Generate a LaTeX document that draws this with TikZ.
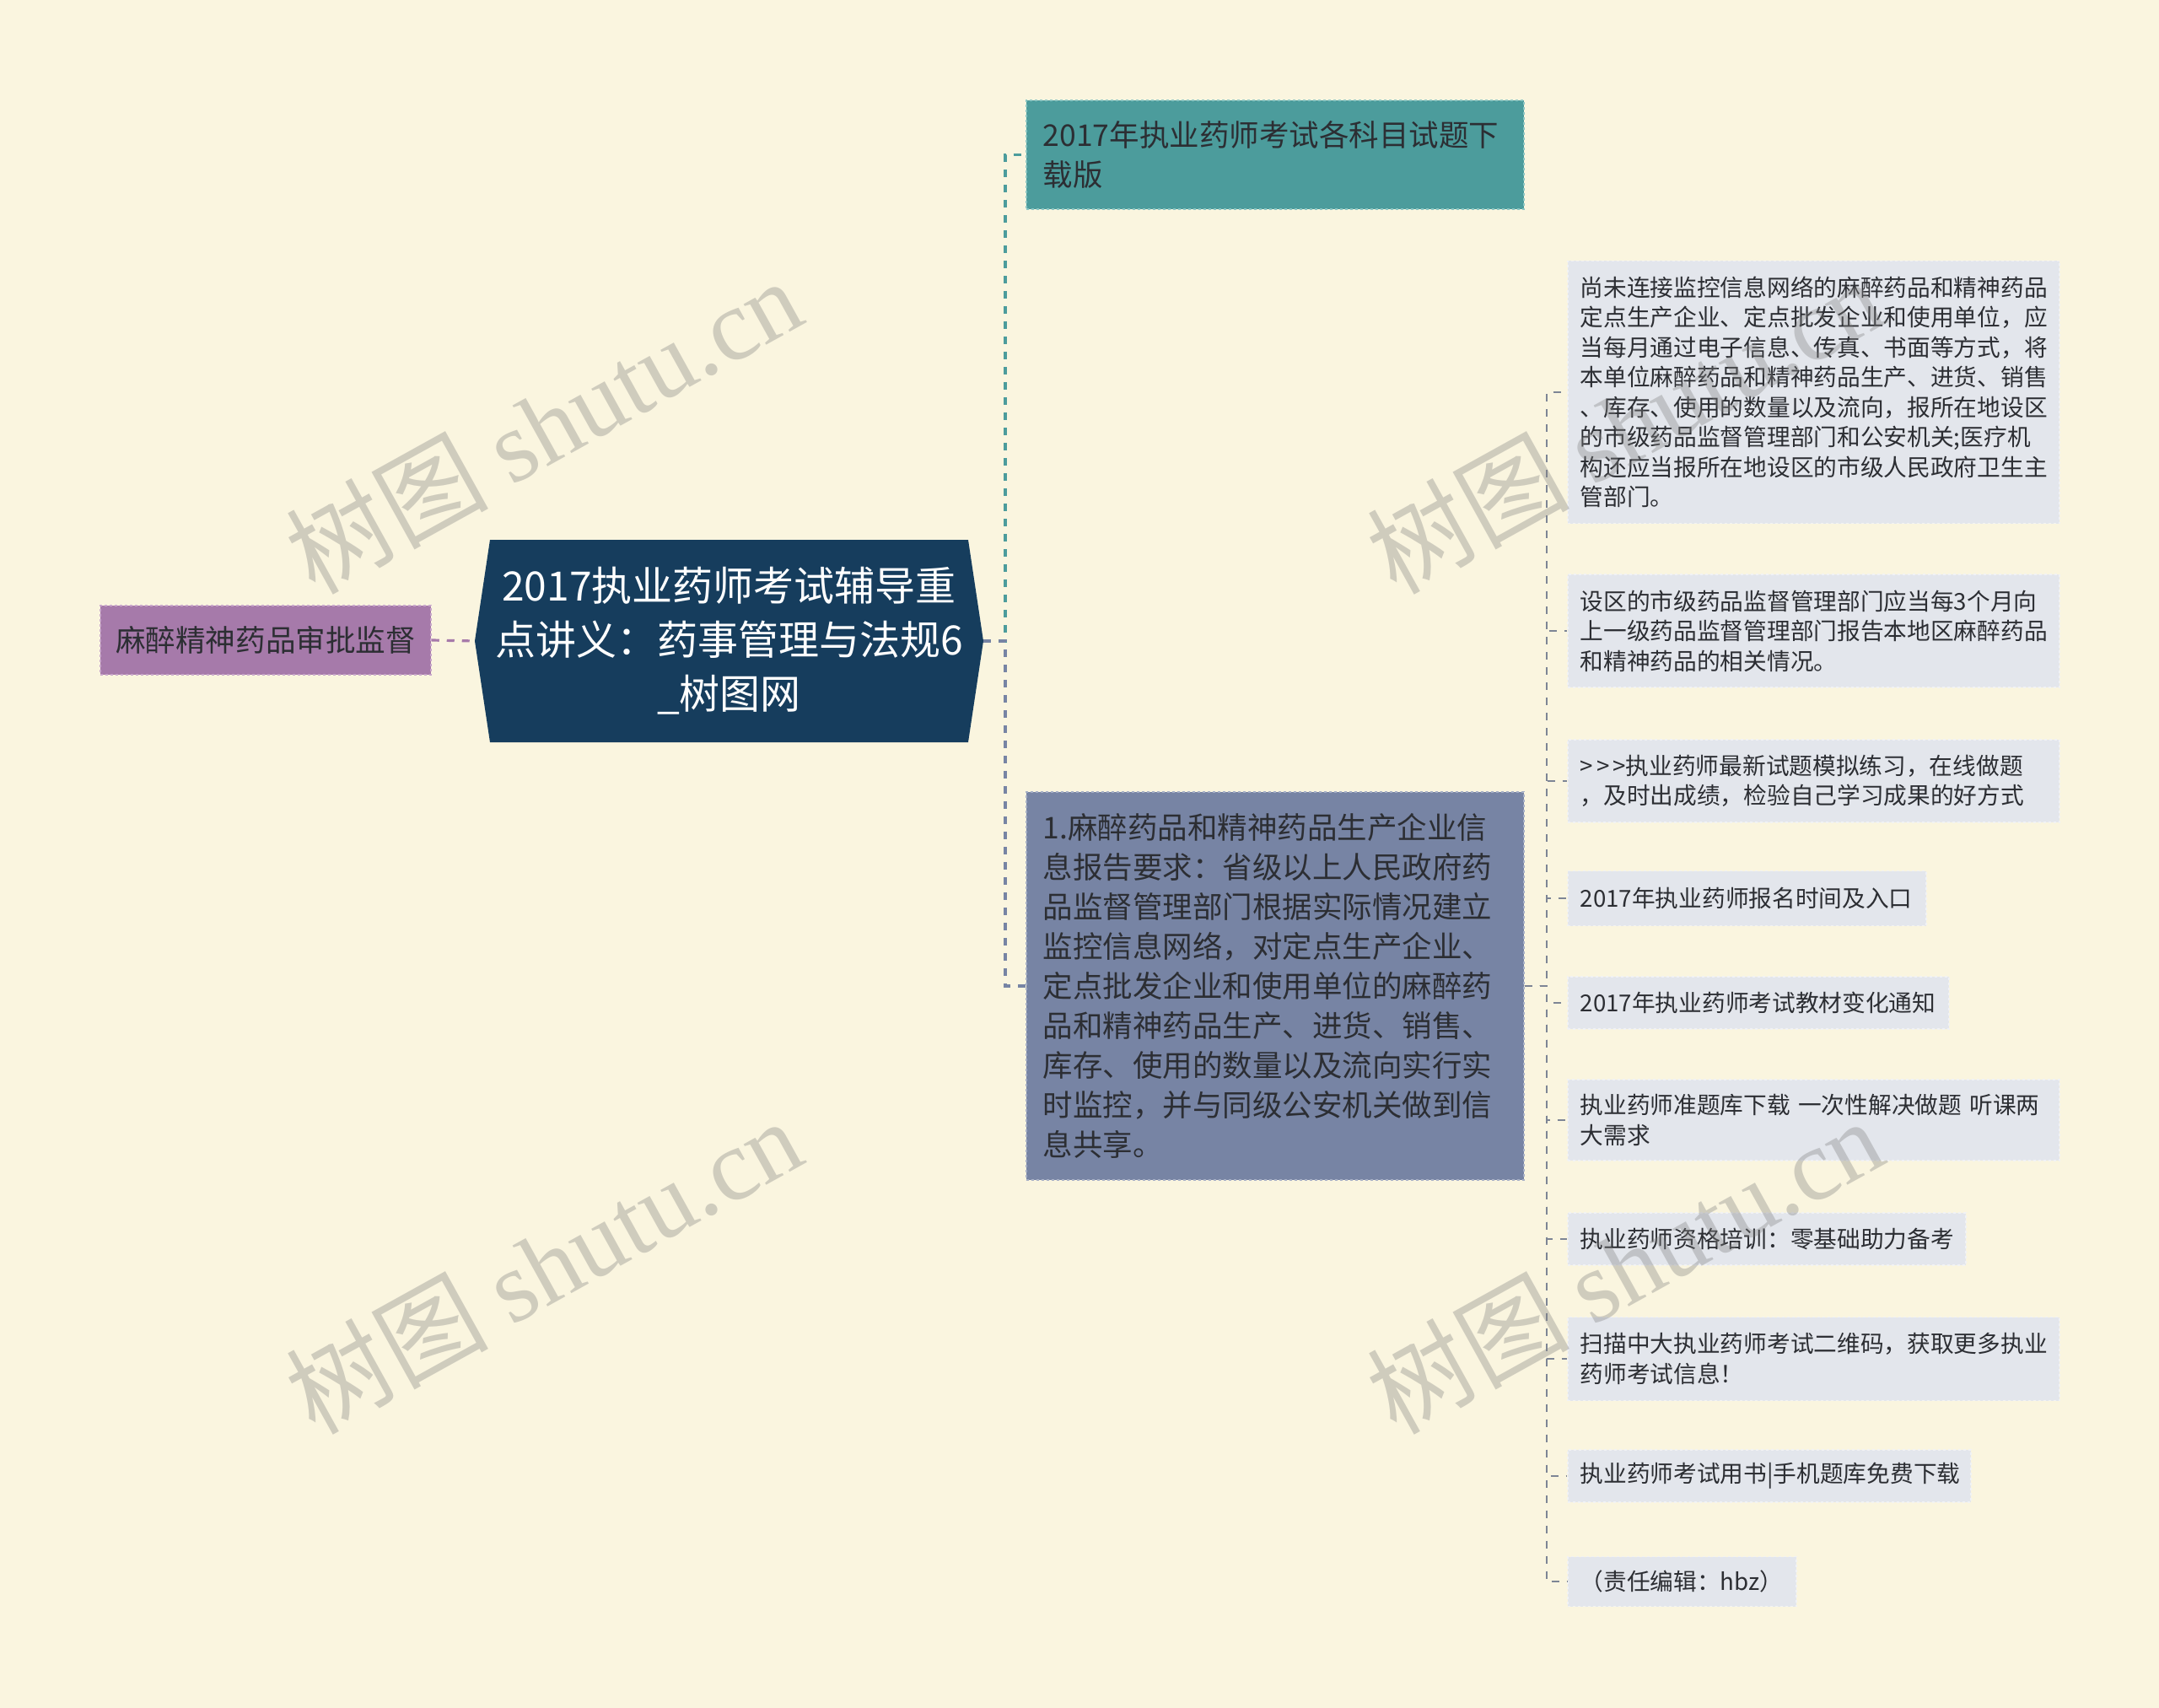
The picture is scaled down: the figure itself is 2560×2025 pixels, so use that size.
\documentclass[tikz,border=0pt]{standalone}
\usepackage{fontspec}
\setmainfont{Noto Sans CJK SC}
\newfontfamily\wmserif{Liberation Serif}
\definecolor{bgc}{HTML}{FAF5DF}
\definecolor{navy}{HTML}{163D5D}
\definecolor{tealc}{HTML}{4C9C9C}
\definecolor{tealb}{HTML}{8CC6C3}
\definecolor{slatec}{HTML}{7784A4}
\definecolor{slateb}{HTML}{A7B0C6}
\definecolor{purc}{HTML}{A67AAA}
\definecolor{purb}{HTML}{C9A7CB}
\definecolor{leafc}{HTML}{E3E6EC}
\definecolor{leafb}{HTML}{F1F2F4}
\definecolor{leafline}{HTML}{7D8595}
\definecolor{txt}{HTML}{2C2E33}
\tikzset{
  mainbox/.style={anchor=west, draw, dashed, line width=1.5pt, inner xsep=20pt, inner ysep=0pt,
    align=left, text=txt, font=\fontsize{35.5}{47}\selectfont},
  leaf/.style={anchor=west, fill=leafc, draw=leafb, dashed, line width=1.5pt, inner xsep=15pt, inner ysep=0pt,
    align=left, text=txt, font=\fontsize{27.7}{35.5}\selectfont},
  conn/.style={dashed, dash pattern=on 9pt off 9pt, line width=3.2pt},
  leafconn/.style={dash pattern=on 9pt off 9pt, line width=2.4pt, draw=leafline},
  wm/.style={anchor=base west, rotate=29, text=gray, opacity=0.35, font=\fontsize{120}{120}\selectfont}
}
\begin{document}
\begin{tikzpicture}[x=1pt,y=-1pt]
\useasboundingbox (0,0) rectangle (2560,2025);
\fill[bgc] (0,0) rectangle (2560,2025);

% central hexagon
\fill[navy] (581,640) -- (1148,640) -- (1166,760) -- (1148,880) -- (581,880) -- (563,760) -- cycle;
\node[text=white, font=\fontsize{48}{64}\selectfont, align=center, minimum width=603pt, minimum height=240pt, inner sep=0pt] (c) at (864.5,760)
  {2017执业药师考试辅导重\\点讲义：药事管理与法规6\\\_树图网};

% left node
\node[fill=purc, draw=purb, dashed, line width=1.5pt, minimum width=392pt, minimum height=82pt, inner sep=0pt,
  text=txt, font=\fontsize{35.6}{47}\selectfont] (l) at (315,759) {麻醉精神药品审批监督};

% top node
\node[mainbox, fill=tealc, draw=tealb, minimum width=590pt, minimum height=129pt, text width=550pt] (t) at (1216,183.5)
  {2017年执业药师考试各科目试题下\\载版};

% middle node
\node[mainbox, fill=slatec, draw=slateb, minimum width=590pt, minimum height=460pt, text width=550pt] (m) at (1216,1169)
  {1.麻醉药品和精神药品生产企业信\\息报告要求：省级以上人民政府药\\品监督管理部门根据实际情况建立\\监控信息网络，对定点生产企业、\\定点批发企业和使用单位的麻醉药\\品和精神药品生产、进货、销售、\\库存、使用的数量以及流向实行实\\时监控，并与同级公安机关做到信\\息共享。};

% leaves
\node[leaf, minimum width=583pt, minimum height=311pt, text width=553pt] (a1) at (1858,465)
  {尚未连接监控信息网络的麻醉药品和精神药品\\定点生产企业、定点批发企业和使用单位，应\\当每月通过电子信息、传真、书面等方式，将\\本单位麻醉药品和精神药品生产、进货、销售\\、库存、使用的数量以及流向，报所在地设区\\的市级药品监督管理部门和公安机关;医疗机\\构还应当报所在地设区的市级人民政府卫生主\\管部门。};
\node[leaf, minimum width=583pt, minimum height=134pt, text width=553pt] (a2) at (1858,748)
  {设区的市级药品监督管理部门应当每3个月向\\上一级药品监督管理部门报告本地区麻醉药品\\和精神药品的相关情况。};
\node[leaf, minimum width=583pt, minimum height=98pt, text width=553pt] (a3) at (1858,926)
  {>\kern4pt>\kern4pt>执业药师最新试题模拟练习，在线做题\\，及时出成绩，检验自己学习成果的好方式};
\node[leaf, minimum width=425pt, minimum height=65pt, text width=395pt] (a4) at (1858,1065)
  {2017年执业药师报名时间及入口};
\node[leaf, minimum width=452pt, minimum height=62pt, text width=422pt] (a5) at (1858,1189)
  {2017年执业药师考试教材变化通知};
\node[leaf, minimum width=583pt, minimum height=96pt, text width=553pt] (a6) at (1858,1328)
  {执业药师准题库下载~一次性解决做题~听课两\\大需求};
\node[leaf, minimum width=472pt, minimum height=62pt, text width=442pt] (a7) at (1858,1469)
  {执业药师资格培训：零基础助力备考};
\node[leaf, minimum width=583pt, minimum height=99pt, text width=553pt] (a8) at (1858,1611)
  {扫描中大执业药师考试二维码，获取更多执业\\药师考试信息！};
\node[leaf, minimum width=478pt, minimum height=62pt, text width=448pt] (a9) at (1858,1750)
  {执业药师考试用书|手机题库免费下载};
\node[leaf, minimum width=271pt, minimum height=59pt, text width=241pt] (a10) at (1858,1875)
  {（责任编辑：hbz）};

% connectors
\draw[conn, purc] (l.east) -- (c.west);
\draw[conn, tealc] (c.east) -- (1192,760) |- (t.west);
\draw[conn, slatec] (c.east) -- (1192,760) |- (m.west);
\foreach \k in {1,...,10} {
  \draw[leafconn] (m.east) -- (1834,1169) |- (a\k.west);
}

% watermarks
\node[wm] (w1) at (370,708) {树图 {\wmserif shutu.cn}};
\node[wm] (w2) at (1652,708) {树图 {\wmserif shutu.cn}};
\node[wm] (w3) at (370,1704) {树图 {\wmserif shutu.cn}};
\node[wm] (w4) at (1652,1704) {树图 {\wmserif shutu.cn}};
\end{tikzpicture}
\end{document}
